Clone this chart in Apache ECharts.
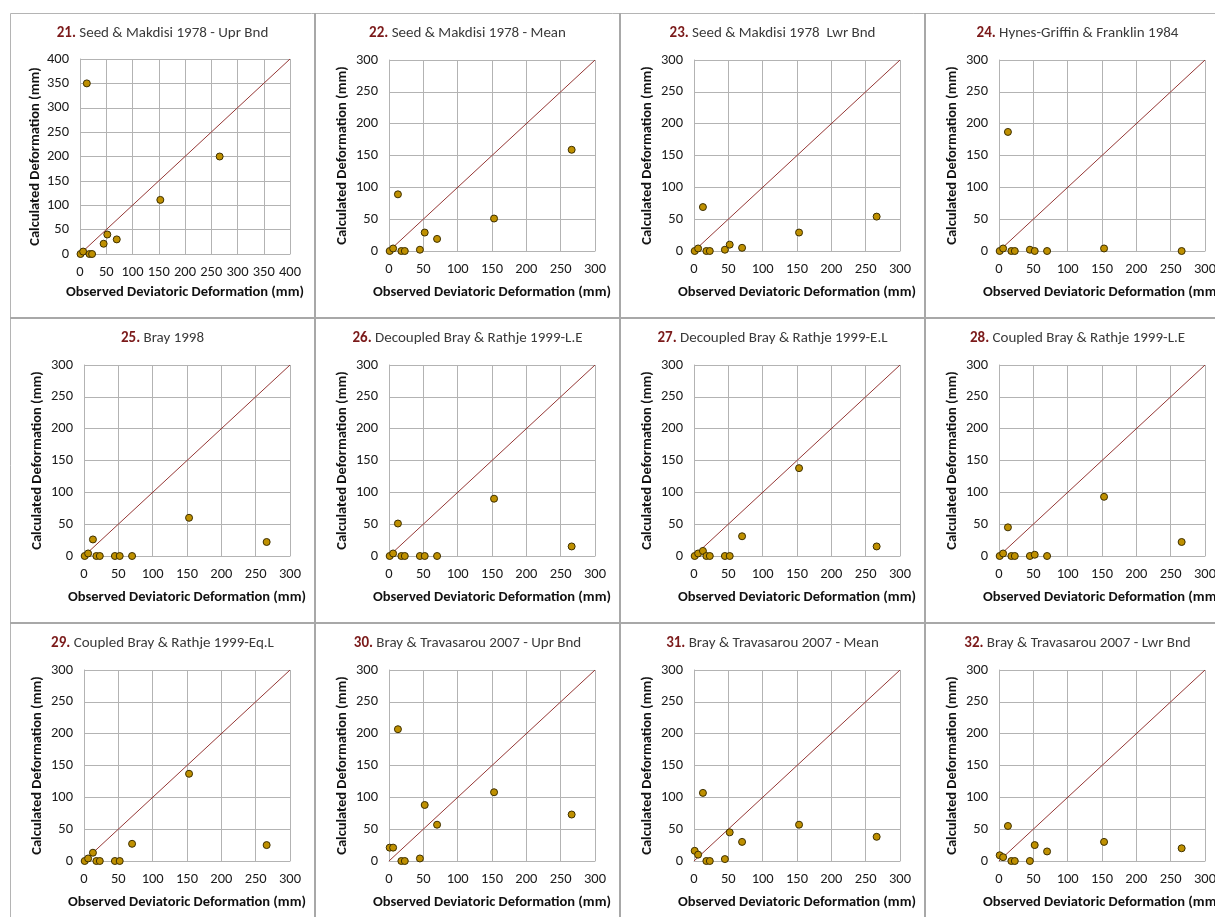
<!DOCTYPE html>
<html>
<head>
<meta charset="utf-8">
<script src="https://cdn.jsdelivr.net/npm/echarts@6/dist/echarts.min.js"></script>
<style>
html,body{margin:0;padding:0;background:#fff;overflow:hidden;}
#chart{width:1215px;height:917px;}
</style>
</head>
<body>
<div id="chart"></div>
<script>
// ---- data ----
const OBSERVED = [1, 6, 13, 18, 23, 45, 52, 70, 153, 266];

const PANEL_NUMBERS = ['21.', '22.', '23.', '24.', '25.', '26.', '27.', '28.', '29.', '30.', '31.', '32.'];
const PANEL_TITLES = [
  'Seed & Makdisi 1978 - Upr Bnd',
  'Seed & Makdisi 1978 - Mean',
  'Seed & Makdisi 1978  Lwr Bnd',
  'Hynes-Griffin & Franklin 1984',
  'Bray 1998',
  'Decoupled Bray & Rathje 1999-L.E',
  'Decoupled Bray & Rathje 1999-E.L',
  'Coupled Bray & Rathje 1999-L.E',
  'Coupled Bray & Rathje 1999-Eq.L',
  'Bray & Travasarou 2007 - Upr Bnd',
  'Bray & Travasarou 2007 - Mean',
  'Bray & Travasarou 2007 - Lwr Bnd'
];

const CALC_21 = [0, 5, 350, 0, 0, 21, 40, 30, 111, 200];
const CALC_22 = [0, 4, 89, 0, 0, 2, 29, 19, 51, 159];
const CALC_23 = [0, 4, 69, 0, 0, 2, 10, 5, 29, 54];
const CALC_24 = [0, 4, 187, 0, 0, 2, 0, 0, 4, 0];
const CALC_25 = [0, 4, 26, 0, 0, 0, 0, 0, 60, 22];
const CALC_26 = [0, 4, 51, 0, 0, 0, 0, 0, 90, 15];
const CALC_27 = [0, 4, 8, 0, 0, 0, 0, 31, 138, 15];
const CALC_28 = [0, 4, 45, 0, 0, 0, 2, 0, 93, 22];
const CALC_29 = [0, 4, 13, 0, 0, 0, 0, 27, 137, 25];
const CALC_30 = [21, 21, 207, 0, 0, 4, 88, 57, 108, 73];
const CALC_31 = [16, 10, 107, 0, 0, 3, 45, 30, 57, 38];
const CALC_32 = [9, 6, 55, 0, 0, 0, 25, 15, 30, 20];
const CALCULATED = [CALC_21, CALC_22, CALC_23, CALC_24, CALC_25, CALC_26,
                    CALC_27, CALC_28, CALC_29, CALC_30, CALC_31, CALC_32];

const AXIS_MAX = [400, 300, 300, 300, 300, 300, 300, 300, 300, 300, 300, 300];
const TICK_STEP = 50;

const X_NAME = 'Observed Deviatoric Deformation (mm)';
const Y_NAME = 'Calculated Deformation (mm)';

// ---- layout ----
const PANEL_X = [10, 315, 620, 925];
const PANEL_Y = [13, 318, 623];
const FONT = 'Carlito, Lato, "Liberation Sans", sans-serif';
const GRID_COLOR = '#b3b3b3';

const grids = [], xAxes = [], yAxes = [], series = [], graphics = [];

for (let i = 0; i < 12; i++) {
  const col = i % 4, row = Math.floor(i / 4);
  const px = PANEL_X[col], py = PANEL_Y[row];
  const first = i === 0;
  const max = AXIS_MAX[i];
  const g = first
    ? { left: px + 70, top: py + 46, width: 210, height: 195 }
    : { left: px + 74, top: py + 47, width: 206, height: 191 };
  g.outerBoundsMode = 'none';
  g.containLabel = false;
  grids.push(g);
  xAxes.push({
    type: 'value', gridIndex: i, min: 0, max: max, interval: TICK_STEP,
    name: X_NAME, nameLocation: 'middle', nameGap: first ? 31 : 34,
    nameTextStyle: { fontFamily: FONT, fontWeight: 'bold', fontSize: 14.5, color: '#111' },
    axisLine: { show: true, onZero: false, lineStyle: { color: GRID_COLOR, width: 1 } },
    axisTick: { show: false },
    axisLabel: { margin: 11, fontFamily: FONT, fontSize: 14.5, color: '#1a1a1a' },
    splitLine: { show: true, lineStyle: { color: GRID_COLOR, width: 1 } }
  });
  yAxes.push({
    type: 'value', gridIndex: i, min: 0, max: max, interval: TICK_STEP,
    name: Y_NAME, nameLocation: 'middle', nameGap: first ? 35 : 39,
    nameTextStyle: { fontFamily: FONT, fontWeight: 'bold', fontSize: 14.5, color: '#111' },
    axisLine: { show: true, onZero: false, lineStyle: { color: GRID_COLOR, width: 1 } },
    axisTick: { show: false },
    axisLabel: { margin: 11, fontFamily: FONT, fontSize: 14.5, color: '#1a1a1a' },
    splitLine: { show: true, lineStyle: { color: GRID_COLOR, width: 1 } }
  });
  series.push({
    type: 'line', xAxisIndex: i, yAxisIndex: i,
    data: [[0, 0], [max, max]],
    symbol: 'none', silent: true, animation: false,
    lineStyle: { color: '#953735', width: 1 }, z: 2
  });
  series.push({
    type: 'scatter', xAxisIndex: i, yAxisIndex: i,
    data: OBSERVED.map((x, k) => [x, CALCULATED[i][k]]),
    symbol: 'circle', symbolSize: 7, animation: false, z: 3,
    itemStyle: { color: '#bf9000', borderColor: '#3d2f00', borderWidth: 1, opacity: 1 }
  });
  graphics.push({
    type: 'text', x: px + 152.5, y: py + 20, z: 10,
    style: {
      text: '{n|' + PANEL_NUMBERS[i] + '} {t|' + PANEL_TITLES[i] + '}',
      align: 'center', verticalAlign: 'middle',
      rich: {
        n: { fontFamily: FONT, fontWeight: 'bold', fontSize: 15, fill: '#7b1a1a' },
        t: { fontFamily: FONT, fontSize: 15, fill: '#3a3a3a' }
      }
    }
  });
}

// panel borders
const BORDER = '#a8a8a8';
graphics.push({ type: 'line', shape: { x1: 10.5, y1: 13.5, x2: 1215, y2: 13.5 }, style: { stroke: '#b4b4b4', lineWidth: 1 } });
graphics.push({ type: 'line', shape: { x1: 10.5, y1: 13.5, x2: 10.5, y2: 917 }, style: { stroke: '#b4b4b4', lineWidth: 1 } });
for (const x of PANEL_X.slice(1)) {
  graphics.push({ type: 'line', shape: { x1: x, y1: 13, x2: x, y2: 917 }, style: { stroke: BORDER, lineWidth: 2 } });
}
for (const y of PANEL_Y.slice(1)) {
  graphics.push({ type: 'line', shape: { x1: 10, y1: y, x2: 1215, y2: y }, style: { stroke: BORDER, lineWidth: 2 } });
}

const chart = echarts.init(document.getElementById('chart'), null, { renderer: 'canvas' });
chart.setOption({
  backgroundColor: '#ffffff',
  animation: false,
  grid: grids, xAxis: xAxes, yAxis: yAxes, series: series,
  graphic: graphics
});
</script>
</body>
</html>
